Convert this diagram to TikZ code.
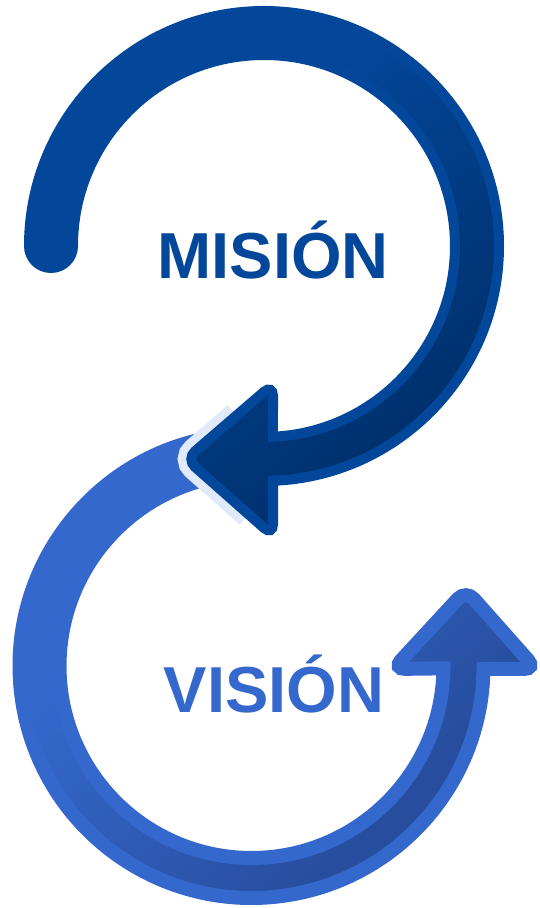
\documentclass[tikz,border=0pt]{standalone}
\usepackage{fontspec}
\setmainfont{Liberation Sans}
\usetikzlibrary{calc}
\definecolor{mis}{HTML}{03479A}
\definecolor{misdark}{HTML}{00306C}
\definecolor{vis}{HTML}{3468CC}
\definecolor{visdark}{HTML}{274E9E}
\definecolor{pale}{HTML}{E1EAFB}
\pgfdeclareverticalshading{misfade}{100bp}{color(0bp)=(misdark); color(28bp)=(misdark); color(62bp)=(mis); color(100bp)=(mis)}
\pgfdeclareverticalshading{visfade}{100bp}{color(0bp)=(visdark); color(32bp)=(visdark); color(64bp)=(vis); color(100bp)=(vis)}
\tikzset{
  misarrow/.style = {shading=misfade, shading angle=40, draw=mis, line width=10},
  visarrow/.style = {shading=visfade, shading angle=45, draw=vis, line width=14},
  band/.style = {draw=pale, line width=27, rounded corners=12},
  word/.style = {font=\fontsize{65}{65}\selectfont\bfseries, anchor=base, inner sep=0pt}
}

\begin{document}
\begin{tikzpicture}[x=1pt,y=1pt]
  \useasboundingbox (0,0) rectangle (540,908);
  % centres of the rings
  \coordinate (c1) at (264,662);
  \coordinate (c2) at (251.5,242);
  % arrow heads
  \coordinate (tip1) at (186,449);
  \coordinate (b1) at (273,524);
  \coordinate (b2) at (273,372);
  \coordinate (tip2) at (466,318);
  \coordinate (b3) at (536,239);
  \coordinate (b4) at (393,239);
  % lower ring
  \shadedraw[visarrow] ($(c2)+(95:232)$) arc[start angle=95, end angle=359.3, radius=232]
    [rounded corners=12] -- (b3) -- (tip2) -- (b4) [sharp corners]
    -- ($(c2)+(359.3:192)$) arc[start angle=359.3, end angle=95, radius=192] -- cycle;
  % pale rim round the upper tip
  \draw[band] ($(tip1)!0.58!(b1)$) -- (tip1) -- ($(tip1)!0.72!(b2)$);
  % upper ring
  \shadedraw[misarrow] ($(c1)+(180:235)$) arc[start angle=180, end angle=-87.8, radius=235]
    [rounded corners=12] -- (b2) -- (tip1) -- (b1) [sharp corners]
    -- ($(c1)+(-87.3:191)$) arc[start angle=-87.3, end angle=180, radius=191]
    arc[start angle=0, end angle=-180, radius=22] -- cycle;
  % labels
  \node[word, text=mis] (mision) at (273,629) {MISIÓN};
  \node[word, text=vis] (vision) at (274,195) {VISIÓN};
\end{tikzpicture}
\end{document}
